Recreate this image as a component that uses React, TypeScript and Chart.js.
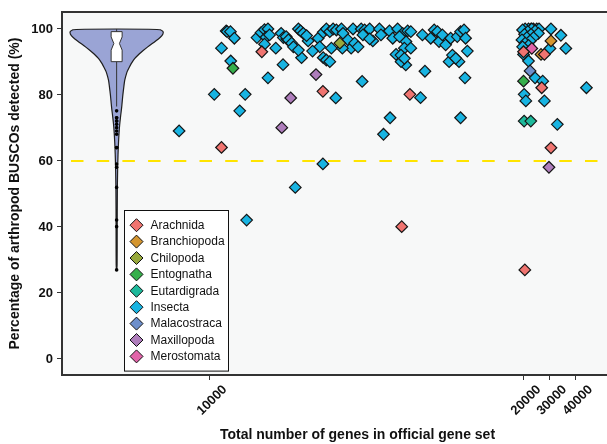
import React, { useEffect, useRef } from 'react';
import { Chart, registerables } from 'chart.js';

Chart.register(...registerables);

const FONT = "'Liberation Sans', Arial, Helvetica, sans-serif";

// ---- Data: [total genes in official gene set, % arthropod BUSCOs detected]
const CATEGORIES = ['Arachnida', 'Branchiopoda', 'Chilopoda', 'Entognatha', 'Eutardigrada', 'Insecta', 'Malacostraca', 'Maxillopoda', 'Merostomata'];
const COLORS = ['#F07470', '#D4952F', '#97A83C', '#36AF4B', '#1DB99B', '#18B4E2', '#6D8FCC', '#AE7DBB', '#E264A9'];

const ARACHNIDA = [[10370, 64.1], [11655, 93.1], [13600, 81.1], [16370, 80.2], [16110, 40.1], [19990, 93.1], [27960, 92.3], [26920, 82.2], [30500, 64.0], [20385, 27.0]];
const BRANCHIOPODA = [[30500, 96.4], [26650, 92.3]];
const CHILOPODA = [[14140, 95.7]];
const ENTOGNATHA = [[10735, 88.1], [19990, 84.2]];
const EUTARDIGRADA = [[20115, 72.1], [22690, 72.1]];
const INSECTA = [
  [9020, 69.1], [10140, 80.2], [10370, 94.2], [10520, 99.4], [10550, 99.2], [10655, 99.2], [10780, 97.2], [10665, 90.3], [11125, 80.2], [10950, 75.2], [11170, 42.1],
  [11500, 97.4], [11630, 98.9], [11740, 99.8], [11850, 100], [11790, 97.5], [11900, 98.2], [11740, 95.4], [12100, 94.2], [11850, 85.2], [12330, 89.2], [12270, 98.7], [12340, 97.4], [12450, 97.0],
  [12720, 52.0], [13600, 59.1], [13610, 91.3], [13710, 90.6], [13820, 90.1], [14010, 79.1], [14850, 84.1], [16240, 89.1], [16850, 87.2], [16710, 79.2], [15740, 73.1], [15530, 68.1], [17620, 90.1], [17935, 90.1], [18125, 85.2], [17985, 73.1],
  [12820, 100], [12890, 99.4], [12975, 98.7], [12430, 97.7], [12500, 96.7], [12605, 95.7], [12660, 94.6], [12920, 91.3], [12820, 93.6], [13130, 96.4], [13080, 98.0], [13450, 97.2], [13500, 94.6], [13610, 99.0], [13710, 100], [13820, 99.2], [13925, 100], [13270, 93.3], [13870, 94.2],
  [14030, 99.7], [14190, 100], [14240, 98.7], [14400, 96.7], [14560, 100], [14500, 94.2], [14610, 95.7], [14720, 94.6], [14220, 94.2], [14820, 100], [14930, 99.7], [15090, 100], [14875, 98.2], [15190, 96.4], [15090, 97.0], [15400, 100], [15450, 98.2], [15720, 99.4], [15825, 97.2], [15980, 100], [16140, 98.7], [15930, 92.3], [16090, 90.1],
  [16300, 99.4], [16400, 99.2], [16245, 96.2], [16040, 97.7], [16195, 94.2], [16400, 94.2], [16085, 92.1], [16195, 91.1], [16770, 98.2], [17035, 97.2], [17145, 99.7], [17250, 99.2], [17300, 96.2], [17405, 98.2], [17510, 95.2], [17670, 97.2], [17880, 97.7], [17985, 99.2], [18095, 99.7], [18145, 97.2], [17725, 92.1], [17830, 91.1], [18200, 93.3],
  [22810, 100], [23730, 100], [21810, 100], [25000, 100], [20500, 100], [25880, 100], [19960, 99.7], [23080, 100], [21540, 99.2], [24350, 99.4], [20270, 98.4], [22810, 98.4], [25650, 98.7], [21150, 97.4], [23730, 97.4], [19940, 96.7], [22420, 96.4], [20500, 95.7], [21810, 95.0], [19960, 94.6],
  [30500, 100], [34350, 98.1], [30120, 94.1], [36270, 94.1], [19990, 92.3], [21810, 90.3], [24350, 85.2], [27310, 84.2], [44230, 82.2], [20115, 80.2], [20770, 78.2], [27960, 78.2], [32960, 71.1],
];
const MALACOSTRACA = [[22420, 87.3]];
const MAXILLOPODA = [[13380, 86.2], [12575, 79.1], [12290, 70.1], [29730, 58.1]];
const MEROSTOMATA = [[23080, 94.1]];
const SERIES = [ARACHNIDA, BRANCHIOPODA, CHILOPODA, ENTOGNATHA, EUTARDIGRADA, INSECTA, MALACOSTRACA, MAXILLOPODA, MEROSTOMATA];

// Violin summary of all BUSCO percentages
const VIOLIN_X = 7030;
const VIOLIN_LEVELS = [100, 99.5, 99, 98, 97, 96, 95, 94, 93, 92, 91, 90, 89, 88, 87, 86, 85, 84, 82, 80, 78, 76, 74, 72, 70, 67, 64, 60, 55, 50, 40, 30, 27];
const VIOLIN_DENSITY = [0.89, 0.97, 1.0, 0.97, 0.89, 0.8, 0.7, 0.61, 0.52, 0.45, 0.38, 0.33, 0.29, 0.255, 0.22, 0.2, 0.18, 0.166, 0.149, 0.132, 0.119, 0.106, 0.088, 0.072, 0.058, 0.045, 0.035, 0.025, 0.018, 0.014, 0.012, 0.011, 0.008];
const BOX_STATS = [76.5, 90.1, 95.6, 99.2, 100]; // lower whisker, q1, median, q3, upper whisker
const NOTCH = 2.0;

const THRESHOLD = 60;

// Axis
const X_TICKS = [10000, 20000, 30000, 40000];
const X_TICK_LABELS = ['10000', '20000', '30000', '40000'];
const AXIS_GENES = [10000, 20000, 30000, 40000];
const AXIS_UNITS = [0, 316, 342, 368];
const X_RANGE = [5290, 70000];
const Y_TICKS = [0, 20, 40, 60, 80, 100];
const Y_RANGE = [-4.85, 105.15];

function toAxis(g: number): number {
  const G = AXIS_GENES, U = AXIS_UNITS;
  let i = 0;
  if (g <= G[0]) i = 0;
  else if (g >= G[G.length - 1]) i = G.length - 2;
  else { while (g > G[i + 1]) i++; }
  const slope = (U[i + 1] - U[i]) / (G[i + 1] - G[i]);
  return U[i] + (g - G[i]) * slope;
}

const VIOLIN_MAX_HALF = 47;
const BOX_HALF = 5.5;
const NOTCH_HALF = 2.8;

const framePlugin = {
  id: 'frame',
  beforeDraw(chart: any) {
    const { ctx, chartArea: a } = chart;
    ctx.save();
    ctx.fillStyle = '#F7F8F8';
    ctx.fillRect(a.left, a.top, a.right - a.left, a.bottom - a.top);
    ctx.restore();
  },
  afterDraw(chart: any) {
    const { ctx, chartArea: a } = chart;
    ctx.save();
    ctx.strokeStyle = '#333';
    ctx.lineWidth = 2;
    ctx.strokeRect(a.left, a.top, a.right - a.left, a.bottom - a.top);
    ctx.restore();
  },
};

const violinPlugin = {
  id: 'violin',
  beforeDatasetsDraw(chart: any) {
    const { ctx } = chart;
    const xs = chart.scales.x, ys = chart.scales.y;
    const py = (v: number) => ys.getPixelForValue(v);
    const cx = xs.getPixelForValue(toAxis(VIOLIN_X));
    const right = VIOLIN_LEVELS.map((lv, i) => [cx + VIOLIN_DENSITY[i] * VIOLIN_MAX_HALF, py(lv)]);
    const left = right.slice().reverse().map(([px, pyy]) => [2 * cx - px, pyy]);
    const pts = [...right, ...left];
    const n = pts.length;
    const mid = (a: number[], b: number[]) => [(a[0] + b[0]) / 2, (a[1] + b[1]) / 2];
    ctx.save();
    ctx.beginPath();
    const m0 = mid(pts[n - 1], pts[0]);
    ctx.moveTo(m0[0], m0[1]);
    for (let i = 0; i < n; i++) {
      const p = pts[i];
      const m = mid(p, pts[(i + 1) % n]);
      ctx.quadraticCurveTo(p[0], p[1], m[0], m[1]);
    }
    ctx.closePath();
    ctx.fillStyle = '#9AA4D5';
    ctx.fill();
    ctx.strokeStyle = '#1e1e1e';
    ctx.lineWidth = 1.2;
    ctx.stroke();

    const [lo, q1, med, q3, hi] = BOX_STATS;
    ctx.beginPath();
    ctx.moveTo(cx, py(q1));
    ctx.lineTo(cx, py(lo));
    ctx.moveTo(cx, py(q3));
    ctx.lineTo(cx, py(hi));
    ctx.strokeStyle = '#333';
    ctx.lineWidth = 1;
    ctx.stroke();

    const bw = BOX_HALF, nw = NOTCH_HALF;
    ctx.beginPath();
    ctx.moveTo(cx - bw, py(q3));
    ctx.lineTo(cx + bw, py(q3));
    ctx.lineTo(cx + bw, py(med + NOTCH));
    ctx.lineTo(cx + nw, py(med));
    ctx.lineTo(cx + bw, py(med - NOTCH));
    ctx.lineTo(cx + bw, py(q1));
    ctx.lineTo(cx - bw, py(q1));
    ctx.lineTo(cx - bw, py(med - NOTCH));
    ctx.lineTo(cx - nw, py(med));
    ctx.lineTo(cx - bw, py(med + NOTCH));
    ctx.closePath();
    ctx.fillStyle = '#ffffff';
    ctx.fill();
    ctx.strokeStyle = '#333';
    ctx.stroke();
    ctx.restore();
  },
};

const legendPlugin = {
  id: 'insetLegend',
  afterDraw(chart: any) {
    const { ctx, chartArea: a } = chart;
    const items = chart.data.datasets.filter((d: any) => d.inLegend);
    const rowH = 16.4, padY = 6.5, w = 104;
    const h = items.length * rowH + 2 * padY;
    const x0 = Math.round(a.left + 62) + 0.5;
    const y0 = Math.round(a.bottom - 4 - h) + 0.5;
    ctx.save();
    ctx.fillStyle = '#ffffff';
    ctx.fillRect(x0, y0, w, h);
    ctx.strokeStyle = '#111';
    ctx.lineWidth = 1;
    ctx.strokeRect(x0, y0, w, h);
    ctx.font = `12px ${FONT}`;
    ctx.textBaseline = 'middle';
    ctx.textAlign = 'left';
    items.forEach((d: any, i: number) => {
      const cy = y0 + padY + rowH * (i + 0.5);
      const cxp = x0 + 12;
      const r = 6.5;
      ctx.beginPath();
      ctx.moveTo(cxp, cy - r);
      ctx.lineTo(cxp + r, cy);
      ctx.lineTo(cxp, cy + r);
      ctx.lineTo(cxp - r, cy);
      ctx.closePath();
      ctx.fillStyle = d.backgroundColor;
      ctx.fill();
      ctx.strokeStyle = '#111';
      ctx.stroke();
      ctx.fillStyle = '#111';
      ctx.fillText(d.label, x0 + 26, cy + 0.5);
    });
    ctx.restore();
  },
};

export default function App() {
  const ref = useRef<HTMLCanvasElement | null>(null);
  useEffect(() => {
    if (!ref.current) return;
    const catSets = CATEGORIES.map((name, i) => ({
      label: name,
      inLegend: true,
      data: SERIES[i].map(([g, v]) => ({ x: toAxis(g), y: v })),
      backgroundColor: COLORS[i],
      borderColor: '#151515',
      borderWidth: 1.2,
      pointStyle: 'rectRot',
      pointRadius: 5.8,
      order: name === 'Insecta' ? 3 : 2,
    }));
    const allValues = SERIES.flat().map((p) => p[1]);
    const outliers = allValues.filter((v) => v < BOX_STATS[0]).map((v) => ({ x: toAxis(VIOLIN_X), y: v }));
    const chart = new Chart(ref.current, {
      type: 'scatter',
      data: {
        datasets: [
          ...catSets,
          {
            label: 'outliers',
            data: outliers,
            backgroundColor: '#000',
            borderColor: '#000',
            borderWidth: 0,
            pointStyle: 'circle',
            pointRadius: 1.8,
            order: 1,
          },
          {
            label: 'threshold',
            data: [{ x: toAxis(X_RANGE[0]), y: THRESHOLD }, { x: toAxis(X_RANGE[1]), y: THRESHOLD }],
            showLine: true,
            borderColor: '#FFE400',
            borderWidth: 2,
            borderDash: [12.5, 13.2],
            borderDashOffset: 16.7,
            pointRadius: 0,
            order: 0,
          },
        ] as any,
      },
      options: {
        animation: false,
        responsive: false,
        devicePixelRatio: 1,
        layout: { padding: { left: 0, right: 3, top: 12, bottom: 0 } },
        plugins: { legend: { display: false }, tooltip: { enabled: false } },
        scales: {
          x: {
            type: 'linear',
            min: toAxis(X_RANGE[0]),
            max: toAxis(X_RANGE[1]),
            afterBuildTicks: (s: any) => { s.ticks = X_TICKS.map((g) => ({ value: toAxis(g) })); },
            afterFit: (s: any) => { s.height = 69; },
            ticks: {
              autoSkip: false,
              callback: (_v: any, i: number) => X_TICK_LABELS[i],
              font: { family: FONT, size: 13, weight: 'bold' },
              color: '#111',
              minRotation: 45,
              maxRotation: 45,
              labelOffset: 15,
              padding: 2,
            },
            grid: { drawOnChartArea: false, drawTicks: true, tickLength: 5, tickColor: '#333' },
            border: { display: false },
            title: {
              display: true,
              text: 'Total number of genes in official gene set',
              font: { family: FONT, size: 14, weight: 'bold' },
              color: '#111',
              padding: { top: 0, bottom: 0 },
            },
          },
          y: {
            type: 'linear',
            min: Y_RANGE[0],
            max: Y_RANGE[1],
            afterBuildTicks: (s: any) => { s.ticks = Y_TICKS.map((v) => ({ value: v })); },
            afterFit: (s: any) => { s.width = 62; },
            ticks: {
              callback: (v: any) => String(v),
              font: { family: FONT, size: 13, weight: 'bold' },
              color: '#111',
              padding: 4,
            },
            grid: { drawOnChartArea: false, drawTicks: true, tickLength: 5, tickColor: '#333' },
            border: { display: false },
            title: {
              display: true,
              text: 'Percentage of arthropod BUSCOs detected (%)',
              font: { family: FONT, size: 14, weight: 'bold' },
              color: '#111',
              padding: { top: 6.6, bottom: 0 },
            },
          },
        },
      } as any,
      plugins: [framePlugin, violinPlugin, legendPlugin],
    });
    return () => chart.destroy();
  }, []);
  return (
    <div style={{ position: 'absolute', left: 0, top: 0, width: 607, height: 444, overflow: 'hidden', background: '#fff' }}>
      <canvas ref={ref} width={660} height={444} style={{ display: 'block', width: 660, height: 444 }} />
    </div>
  );
}
